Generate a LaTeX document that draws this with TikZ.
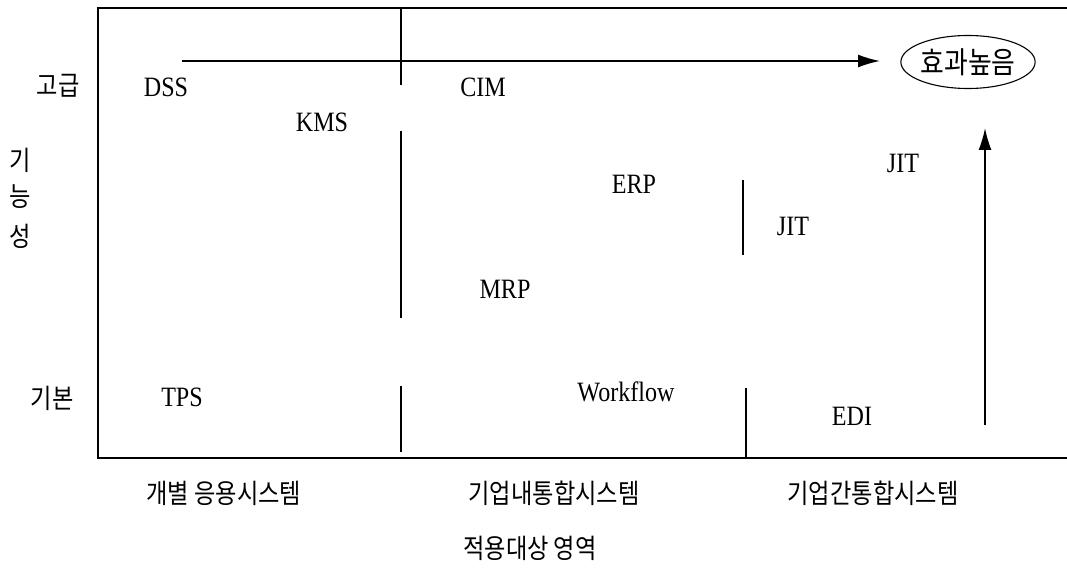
\documentclass[tikz,border=0pt]{standalone}
\usepackage{fontspec}
\setmainfont{Liberation Serif}
\newfontfamily\lat[FakeStretch=0.86]{Liberation Serif}
\newfontfamily\kr[FakeStretch=0.86]{Noto Sans CJK KR}
\usetikzlibrary{arrows.meta,shapes.geometric}
\begin{document}
\begin{tikzpicture}[x=1pt,y=-1pt,
  lat/.style={font=\lat\fontsize{28}{28}\selectfont, inner sep=0pt},
  kor/.style={font=\kr\fontsize{27}{27}\selectfont, inner sep=0pt},
  frame/.style={line width=1.6pt},
  div/.style={line width=1.1pt},
  arr/.style={line width=1.6pt, -{Latex[length=22pt,width=13pt]}}]
\useasboundingbox (0,0) rectangle (1067,572);
% frame
\draw[frame] (1067,8) -- (98,8) -- (98,458) -- (1067,458);
% dividers
\draw[div] (401,8) -- (401,85);
\draw[div] (401,131) -- (401,318);
\draw[div] (401,386) -- (401,452);
\draw[div] (743,180) -- (743,255);
\draw[div] (746,388) -- (746,458);
% arrows
\coordinate (hs) at (182,61);
\coordinate (he) at (880,61);
\draw[arr] (hs) -- (he);
\coordinate (vs) at (985,425);
\coordinate (ve) at (985,128);
\draw[arr] (vs) -- (ve);
% goal
\node[ellipse, draw, line width=1.1pt, minimum width=132pt, minimum height=53pt, inner sep=0pt, kor, font=\kr\fontsize{30}{30}\selectfont] (eff) at (968,62) {효과높음};
% axis labels
\node[kor] (hi) at (58,86) {고급};
\node[kor] (lo) at (52,398) {기본};
\node[kor] (f1) at (20,160) {기};
\node[kor] (f2) at (20,197) {능};
\node[kor] (f3) at (20,236) {성};
% systems
\node[lat] (dss) at (166,87) {DSS};
\node[lat] (kms) at (322,122) {KMS};
\node[lat] (cim) at (483,87) {CIM};
\node[lat] (erp) at (634,184) {ERP};
\node[lat] (jit1) at (793,226) {JIT};
\node[lat] (jit2) at (903,163) {JIT};
\node[lat] (mrp) at (505,289) {MRP};
\node[lat] (wf) at (626,392) {Workflow};
\node[lat] (edi) at (852,416) {EDI};
\node[lat] (tps) at (182,397) {TPS};
% bottom labels
\node[kor] (c1) at (224,493) {개별 응용시스템};
\node[kor] (c2) at (554,493) {기업내통합시스템};
\node[kor] (c3) at (873,493) {기업간통합시스템};
\node[kor] (ax) at (530,548) {적용대상 영역};
\end{tikzpicture}
\end{document}
